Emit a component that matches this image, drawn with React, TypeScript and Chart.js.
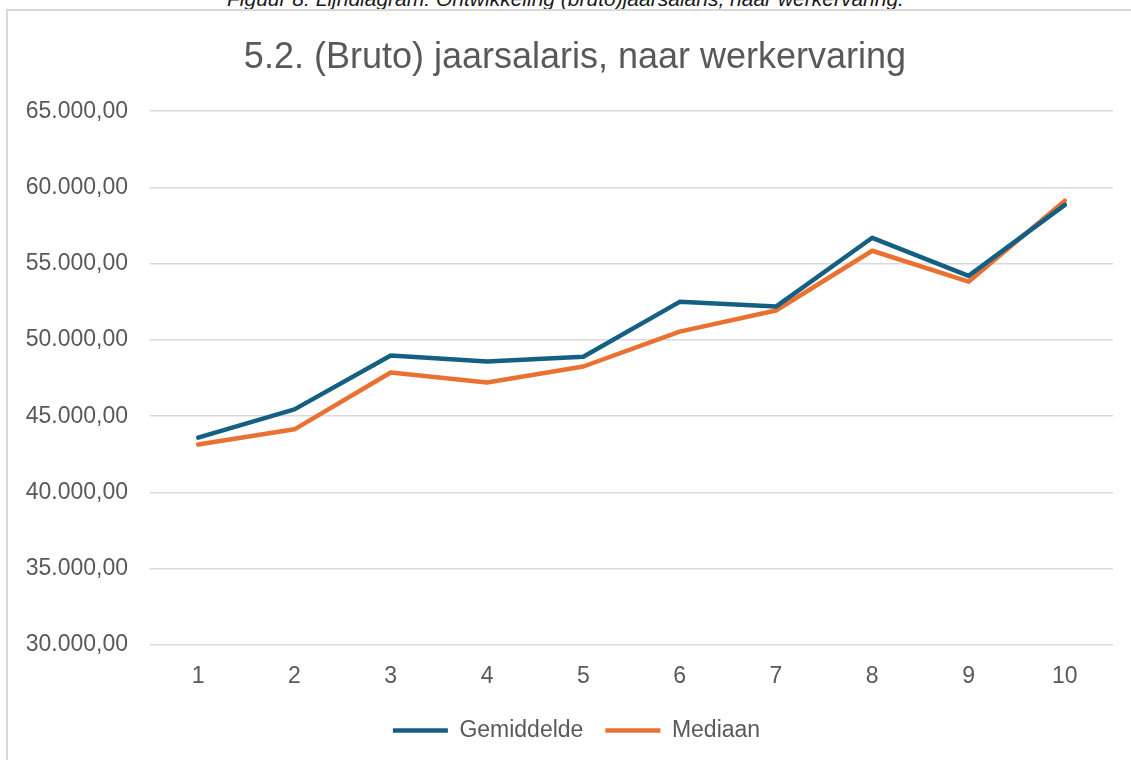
import React, { useEffect, useRef } from "react";
import { Chart, registerables } from "chart.js";

Chart.register(...registerables);

const categories = ["1", "2", "3", "4", "5", "6", "7", "8", "9", "10"];
const gemiddelde = [43600, 45450, 48980, 48590, 48900, 52500, 52190, 56700, 54200, 58860];
const mediaan = [43150, 44140, 47870, 47210, 48260, 50550, 51930, 55850, 53820, 59130];
const seriesNames = ["Gemiddelde", "Mediaan"];
const chartTitle = "5.2. (Bruto) jaarsalaris, naar werkervaring";
const caption = "Figuur 8: Lijndiagram: Ontwikkeling (bruto)jaarsalaris, naar werkervaring.";
const yMin = 30000;
const yMax = 65000;
const yStep = 5000;

const FONT = "'Liberation Sans', Arial, sans-serif";
const TEXT = "#595959";

function fmt(v: number): string {
  const fixed = Math.abs(v).toFixed(2);
  const [intPart, dec] = fixed.split(".");
  const withDots = intPart.replace(/\B(?=(\d{3})+(?!\d))/g, ".");
  return (v < 0 ? "-" : "") + withDots + "," + dec;
}

// Centre title and legend on the (wider) chart frame rather than the canvas.
const shiftBoxes = {
  id: "shiftBoxes",
  afterLayout(chart: any) {
    const t = chart.titleBlock;
    if (t) {
      t.left = 37;
      t.right = 1113;
    }
    const l = chart.legend;
    if (l) {
      l.left = 40;
      l.right = 1113;
    }
  },
};

export default function App() {
  const ref = useRef<HTMLCanvasElement | null>(null);

  useEffect(() => {
    if (!ref.current) return;
    const chart = new Chart(ref.current, {
      type: "line",
      data: {
        labels: categories,
        datasets: [
          {
            label: seriesNames[0],
            data: gemiddelde,
            borderColor: "#156082",
            backgroundColor: "#156082",
            borderWidth: 4.5,
            pointRadius: 0,
            borderCapStyle: "round",
            borderJoinStyle: "round",
            tension: 0,
          },
          {
            label: seriesNames[1],
            data: mediaan,
            borderColor: "#E97132",
            backgroundColor: "#E97132",
            borderWidth: 4.5,
            pointRadius: 0,
            borderCapStyle: "round",
            borderJoinStyle: "round",
            tension: 0,
          },
        ],
      },
      plugins: [shiftBoxes],
      options: {
        animation: false,
        responsive: false,
        maintainAspectRatio: false,
        layout: { padding: { left: 0, right: 18, top: 0, bottom: 8 } },
        plugins: {
          title: {
            display: true,
            text: chartTitle,
            color: TEXT,
            font: { family: FONT, size: 36, weight: "normal" },
            padding: { top: 36, bottom: 32 },
          },
          legend: {
            position: "bottom",
            labels: {
              usePointStyle: true,
              pointStyle: "line",
              pointStyleWidth: 55,
              color: TEXT,
              font: { family: FONT, size: 23 },
              padding: 22,
            },
          },
          tooltip: { enabled: false },
        },
        scales: {
          x: {
            offset: true,
            grid: { display: false, drawTicks: false },
            border: { display: false },
            ticks: { color: TEXT, font: { family: FONT, size: 23 }, padding: 18 },
            afterFit: (scale: any) => {
              scale.height = 52;
            },
          },
          y: {
            min: yMin,
            max: yMax,
            grid: { color: "#d9d9d9", lineWidth: 1.5, drawTicks: false },
            border: { display: false },
            ticks: {
              stepSize: yStep,
              color: TEXT,
              font: { family: FONT, size: 23 },
              padding: 22,
              callback: (v: any) => fmt(Number(v)),
            },
            afterFit: (scale: any) => {
              scale.width = 150;
            },
          },
        },
      },
    });
    return () => chart.destroy();
  }, []);

  return (
    <div
      style={{
        position: "fixed",
        left: 0,
        top: 0,
        width: 1131,
        height: 760,
        overflow: "hidden",
        background: "#ffffff",
      }}
    >
      <div
        style={{
          position: "absolute",
          left: 0,
          top: -12,
          width: 1131,
          textAlign: "center",
          fontFamily: FONT,
          fontStyle: "italic",
          fontSize: 21,
          lineHeight: "21px",
          color: "#1a1a1a",
          whiteSpace: "nowrap",
        }}
      >
        {caption}
      </div>
      <div
        style={{
          position: "absolute",
          left: 6,
          top: 9,
          width: 1140,
          height: 770,
          border: "2px solid #d9d9d9",
          boxSizing: "border-box",
        }}
      />
      <canvas
        ref={ref}
        width={1131}
        height={760}
        style={{ position: "absolute", left: 0, top: 0, width: 1131, height: 760 }}
      />
    </div>
  );
}
